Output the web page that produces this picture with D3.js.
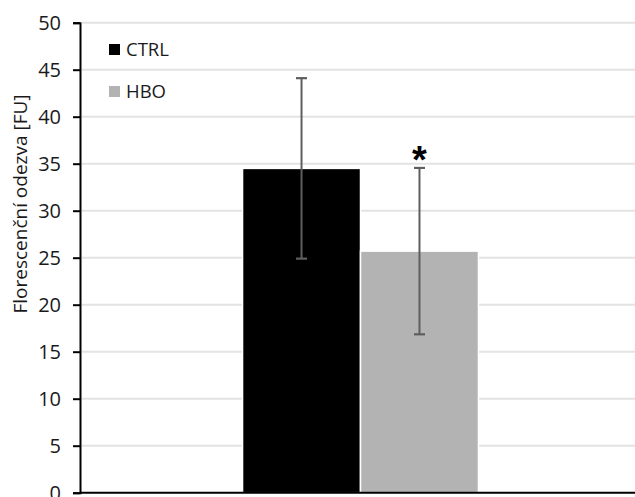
<!DOCTYPE html>
<html>
<head>
<meta charset="utf-8">
<script src="https://cdn.jsdelivr.net/npm/d3@7"></script>
<style>
  html, body { margin: 0; padding: 0; background: #fff; }
  svg { display: block; font-family: "Open Sans", "Liberation Sans", sans-serif; }
</style>
</head>
<body>
<script>
// Group names, means and standard deviations
const groups = ["CTRL", "HBO"];
const means = [34.5, 25.7];
const errors = [9.6, 8.85];
const colors = ["#000000", "#b3b3b3"];
const significance = ["", "*"];
const yTicks = [0, 5, 10, 15, 20, 25, 30, 35, 40, 45, 50];
const yTitle = "Florescenční odezva [FU]";

const W = 635, H = 497;
const margin = { left: 80, right: -6, top: 22.7, bottom: 4.3 };

const svg = d3.select("body").append("svg").attr("width", W).attr("height", H);

const y = d3.scaleLinear().domain([0, 50]).range([H - margin.bottom, margin.top]);

// outer band holds one cluster; inner band splits the two bars
const x = d3.scaleBand().domain(["g"]).range([margin.left, W - margin.right]).paddingInner(0).paddingOuter(0.689);
const xi = d3.scaleBand().domain(groups).range([0, x.bandwidth()]).padding(0);

// gridlines
svg.append("g").selectAll("line").data(yTicks.filter(t => t > 0)).join("line")
  .attr("x1", margin.left + 2).attr("x2", W)
  .attr("y1", d => y(d)).attr("y2", d => y(d))
  .attr("stroke", "#e3e3e3").attr("stroke-width", 2);

const data = groups.map((g, i) => ({ g, m: means[i], e: errors[i], c: colors[i], s: significance[i] }));

// bars with a thin white edge
svg.append("g").selectAll("rect").data(data).join("rect")
  .attr("x", d => x("g") + xi(d.g))
  .attr("y", d => y(d.m))
  .attr("width", xi.bandwidth())
  .attr("height", d => y(0) - y(d.m))
  .attr("fill", d => d.c)
  .attr("stroke", "#fff").attr("stroke-width", 1.5);

// error bars
const eb = svg.append("g").attr("stroke", "#5e5e5e").attr("stroke-width", 2);
data.forEach(d => {
  const cx = x("g") + xi(d.g) + xi.bandwidth() / 2;
  eb.append("line").attr("x1", cx).attr("x2", cx).attr("y1", y(d.m + d.e)).attr("y2", y(d.m - d.e));
  [d.m + d.e, d.m - d.e].forEach(v => {
    eb.append("line").attr("x1", cx - 5.5).attr("x2", cx + 5.5).attr("y1", y(v)).attr("y2", y(v)).attr("stroke-width", 2.2);
  });
  if (d.s) {
    svg.append("text").attr("x", cx).attr("y", y(d.m + d.e) + 5)
      .attr("text-anchor", "middle").attr("font-size", 38).attr("font-weight", "bold")
      .attr("fill", "#000").attr("font-family", "'Liberation Sans', sans-serif")
      .text(d.s);
  }
});

// y axis
const yAxis = d3.axisLeft(y).tickValues(yTicks).tickSize(7).tickPadding(12).tickFormat(d3.format("d"));
const ga = svg.append("g").attr("transform", `translate(${margin.left},0)`).call(yAxis);
ga.select(".domain").attr("stroke", "#000").attr("stroke-width", 2);
ga.selectAll(".tick line").attr("stroke", "#000").attr("stroke-width", 2);
ga.selectAll(".tick text").attr("font-size", 20).attr("fill", "#1a1a1a")
  .attr("font-family", "'Open Sans', sans-serif");

// x axis baseline
svg.append("line").attr("x1", margin.left).attr("x2", W)
  .attr("y1", y(0)).attr("y2", y(0)).attr("stroke", "#000").attr("stroke-width", 2);

// y axis title
svg.append("text")
  .attr("transform", "translate(27,204) rotate(-90)")
  .attr("text-anchor", "middle").attr("font-size", 19).attr("fill", "#1a1a1a")
  .text(yTitle);

// legend
const lg = svg.append("g").attr("transform", "translate(109,44)");
groups.forEach((g, i) => {
  const row = lg.append("g").attr("transform", `translate(0,${i * 42})`);
  row.append("rect").attr("width", 11).attr("height", 11).attr("fill", colors[i]);
  row.append("text").attr("x", 17).attr("y", 12).attr("font-size", 18.5).attr("fill", "#1a1a1a").text(g);
});
</script>
</body>
</html>
